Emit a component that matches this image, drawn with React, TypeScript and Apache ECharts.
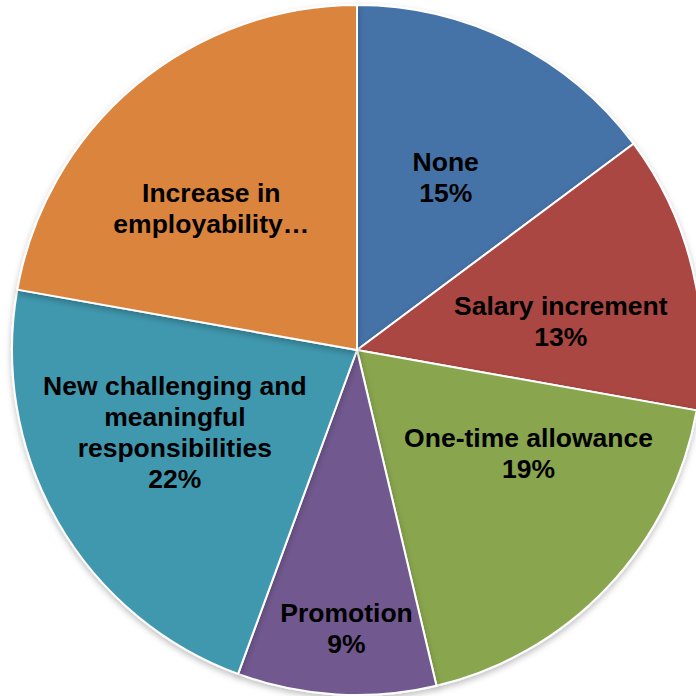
import React, { useEffect, useRef } from "react";
import * as echarts from "echarts";

const categories = [
  "None",
  "Salary increment",
  "One-time allowance",
  "Promotion",
  "New challenging and meaningful responsibilities",
  "Increase in employability",
];
const values = [14.8, 13.0, 18.5, 9.3, 22.2, 22.2];
const labelTexts = [
  "None\n15%",
  "Salary increment\n13%",
  "One-time allowance\n19%",
  "Promotion\n9%",
  "New challenging and\nmeaningful\nresponsibilities\n22%",
  "Increase in\nemployability…",
];
const colors = ["#4572A7", "#AA4643", "#89A54E", "#71588F", "#4198AF", "#DB843D"];
const labelShift = [
  [10, -16],
  [33, 12],
  [44, -17],
  [0, 103],
  [-30, -5],
  [-33, -7],
];

export default function App() {
  const ref = useRef<HTMLDivElement>(null);
  useEffect(() => {
    if (!ref.current) return;
    const chart = echarts.init(ref.current, null, { renderer: "svg" });
    chart.setOption({
      animation: false,
      backgroundColor: "#ffffff",
      series: [
        {
          type: "pie",
          center: [357, 350],
          radius: [0, 345],
          startAngle: 90,
          clockwise: true,
          avoidLabelOverlap: false,
          itemStyle: {
            borderColor: "#ffffff",
            borderWidth: 2,
            shadowColor: "rgba(0,0,0,0.25)",
            shadowBlur: 6,
            shadowOffsetY: 3,
          },
          label: {
            show: true,
            position: "inside",
            color: "#000000",
            fontFamily: "Liberation Sans, Arial, sans-serif",
            fontWeight: "bold",
            fontSize: 26.5,
            lineHeight: 31,
            align: "center",
          },
          labelLine: { show: false },
          labelLayout: (p: any) => ({
            dx: labelShift[p.dataIndex][0],
            dy: labelShift[p.dataIndex][1],
          }),
          emphasis: { disabled: true },
          data: categories.map((name, i) => ({
            name,
            value: values[i],
            itemStyle: { color: colors[i] },
            label: { formatter: labelTexts[i] },
          })),
        },
      ],
    });
    return () => chart.dispose();
  }, []);
  return (
    <div
      ref={ref}
      style={{ position: "absolute", left: 0, top: 0, width: 696, height: 696 }}
    />
  );
}
